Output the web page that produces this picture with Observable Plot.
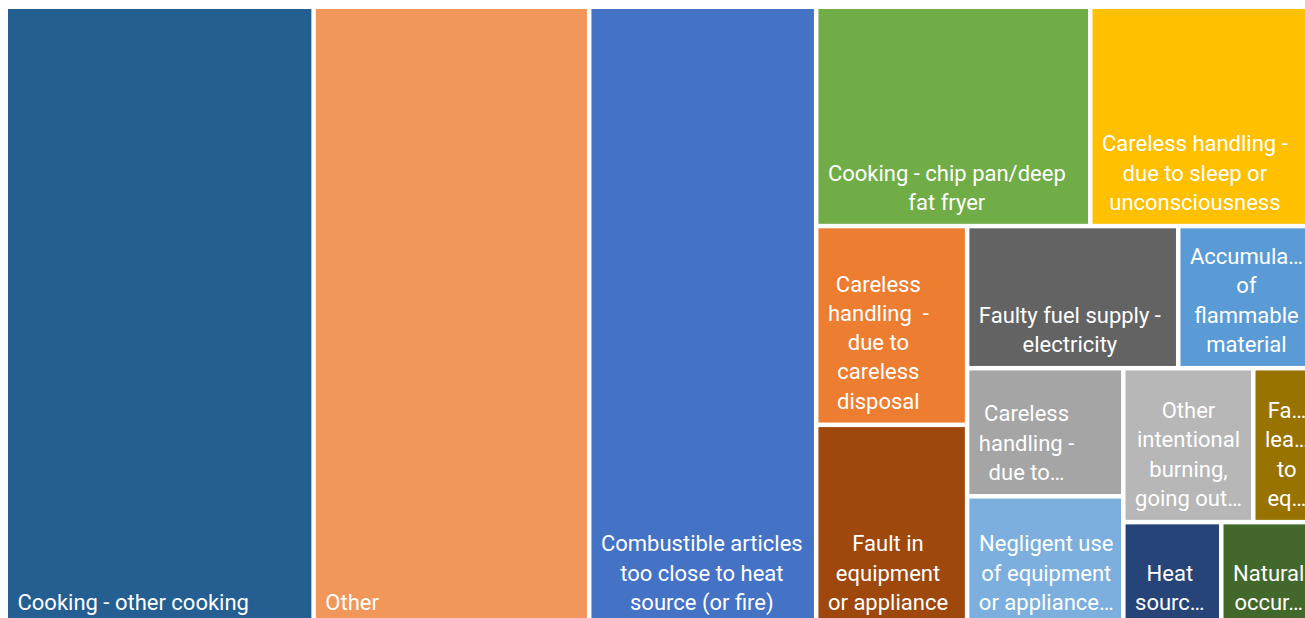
<!DOCTYPE html>
<html>
<head>
<meta charset="utf-8">
<script src="https://cdn.jsdelivr.net/npm/d3@7"></script>
<script src="https://cdn.jsdelivr.net/npm/@observablehq/plot@0.6"></script>
<style>
  html, body { margin: 0; padding: 0; background: #ffffff; overflow: hidden; }
  #chart { width: 1305px; height: 618px; overflow: hidden; }
</style>
</head>
<body>
<div id="chart"></div>
<script>
// ---- data ----
const names = [
  "Cooking - other cooking",
  "Other",
  "Combustible articles too close to heat source (or fire)",
  "Cooking - chip pan/deep fat fryer",
  "Careless handling - due to sleep or unconsciousness",
  "Careless handling  - due to careless disposal",
  "Fault in equipment or appliance",
  "Faulty fuel supply - electricity",
  "Accumulation of flammable material",
  "Careless handling - due to other careless handling",
  "Negligent use of equipment or appliance (not cooking)",
  "Other intentional burning, going out of control",
  "Faulty leads to equipment or appliance",
  "Heat source and combustibles brought together deliberately",
  "Natural occurrence"
];
// labels as displayed (wrapped / truncated as in the reference)
const labels = [
  "Cooking - other cooking",
  "Other",
  "Combustible articles\ntoo close to heat\nsource (or fire)",
  "Cooking - chip pan/deep\nfat fryer",
  "Careless handling -\ndue to sleep or\nunconsciousness",
  "Careless\nhandling  -\ndue to\ncareless\ndisposal",
  "Fault in\nequipment\nor appliance",
  "Faulty fuel supply -\nelectricity",
  "Accumula\u2026\nof\nflammable\nmaterial",
  "Careless\nhandling -\ndue to\u2026",
  "Negligent use\nof equipment\nor appliance\u2026",
  "Other\nintentional\nburning,\ngoing out\u2026",
  "Fa\u2026\nlea\u2026\nto\neq\u2026",
  "Heat\nsourc\u2026",
  "Natural\noccur\u2026"
];
const values = [1907, 1707, 1406, 601, 500, 300, 304, 300, 199, 200, 203, 200, 100, 102, 101];
const colors = [
  "#255E91", "#F1975A", "#4472C4", "#70AD47", "#FFC000",
  "#ED7D31", "#9E480E", "#636363", "#5B9BD5", "#A5A5A5",
  "#7CAFDD", "#B7B7B7", "#997300", "#264478", "#43682B"
];
// which strip (row/column of the treemap) each item is laid out in
const strips = [0, 1, 2, 3, 3, 4, 4, 5, 5, 6, 6, 7, 7, 8, 9];

// ---- strip (squarify-style) tiling computed from the values ----
const W = 1312.5, H = 619.5;           // layout extent (1 unit = 1 px)
function tile() {
  let x0 = 0, y0 = 0, x1 = W, y1 = H;
  let remaining = d3.sum(values);
  const cells = [];
  for (const [, idx] of d3.groups(d3.range(values.length), i => strips[i])) {
    const s = d3.sum(idx, i => values[i]);
    const w = x1 - x0, h = y1 - y0;
    if (w >= h) {
      const xe = x0 + w * s / remaining;
      let yy = y0;
      for (const i of idx) {
        const hh = h * values[i] / s;
        cells.push({i, x1: x0, x2: xe, y1: yy, y2: yy + hh});
        yy += hh;
      }
      x0 = xe;
    } else {
      const ye = y0 + h * s / remaining;
      let xx = x0;
      for (const i of idx) {
        const ww = w * values[i] / s;
        cells.push({i, x1: xx, x2: xx + ww, y1: y0, y2: ye});
        xx += ww;
      }
      y0 = ye;
    }
    remaining -= s;
  }
  return cells;
}

const FONT_SIZE = 22, FONT = "Roboto", INSET = 2.25, PADX = 9, PADB = 14.5;
const ctx = document.createElement("canvas").getContext("2d");
ctx.font = `${FONT_SIZE}px ${FONT}`;

const cells = tile().map(c => {
  const lines = labels[c.i].split("\n");
  const bw = d3.max(lines, l => ctx.measureText(l).width);
  return {
    ...c,
    name: names[c.i],
    label: labels[c.i],
    color: colors[c.i],
    value: values[c.i],
    tx: c.x1 + INSET + PADX + bw / 2,
    ty: c.y2 - INSET - PADB
  };
});

const chart = Plot.plot({
  width: 1305,
  height: 618,
  margin: 0,
  x: {domain: [0, W], range: [5.75, 1318.25], axis: null},
  y: {domain: [0, H], range: [6.75, 626.25], axis: null},
  color: {type: "identity"},
  style: {background: "#ffffff", overflow: "hidden"},
  marks: [
    Plot.rect(cells, {x1: "x1", x2: "x2", y1: "y1", y2: "y2", fill: "color", inset: INSET, title: "name"}),
    Plot.text(cells, {
      x: "tx", y: "ty", text: "label",
      fill: "white", textAnchor: "middle", lineAnchor: "bottom",
      lineHeight: 1.33, fontSize: FONT_SIZE, fontFamily: FONT
    })
  ]
});
document.getElementById("chart").append(chart);
</script>
</body>
</html>
